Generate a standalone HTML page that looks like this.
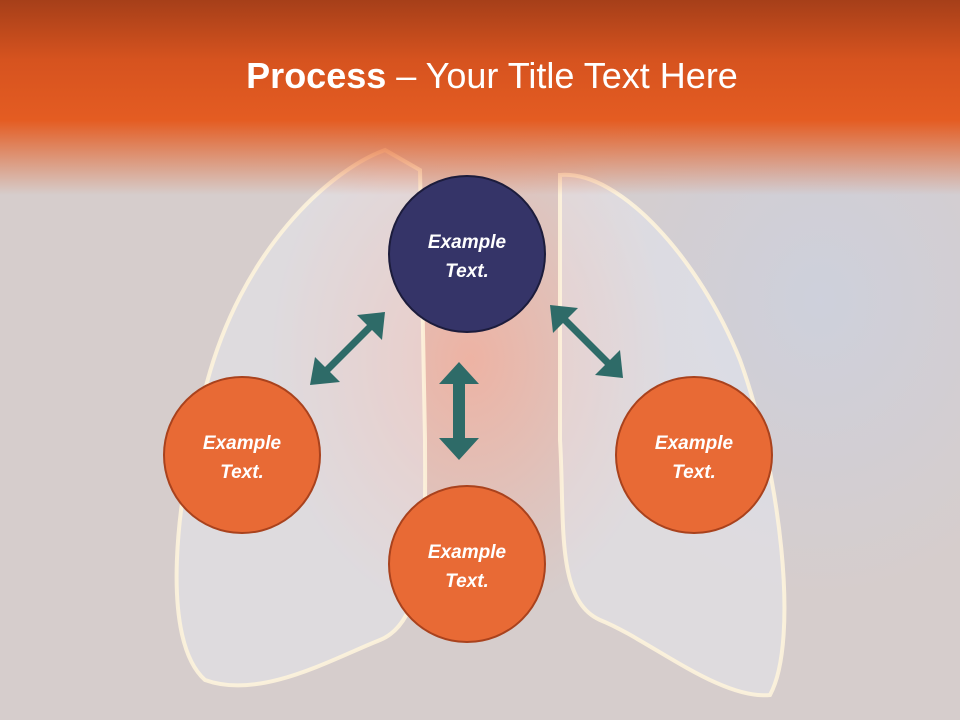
<!DOCTYPE html>
<html><head><style>
body{margin:0;width:960px;height:720px;overflow:hidden;font-family:"Liberation Sans",sans-serif}
.bg{position:absolute;left:0;top:0;width:960px;height:720px;background:
radial-gradient(ellipse 200px 260px at 470px 360px,rgba(245,170,150,.75),rgba(245,170,150,0) 100%),
radial-gradient(ellipse 260px 300px at 820px 300px,rgba(200,210,230,.6),rgba(200,210,230,0)),
#d6cdcc}
.hd{position:absolute;left:0;top:0;width:960px;height:200px;background:linear-gradient(#a63f19 0,#d6531f 60px,#e45c22 120px,rgba(228,92,34,.6) 150px,rgba(220,200,200,0) 195px)}
h1{position:absolute;top:55px;left:12px;width:960px;text-align:center;margin:0;color:#fff;font-size:36px;font-weight:normal}
.c{position:absolute;width:158px;height:158px;border-radius:50%;background:#e86a35;border:2px solid #a9421d;color:#fff;font-style:italic;font-weight:bold;font-size:19px;line-height:29px;display:flex;align-items:center;justify-content:center;text-align:center;box-sizing:border-box;padding-top:6px}
</style></head><body>
<div class="bg"></div>
<svg style="position:absolute;left:0;top:0" width="960" height="720">
<g fill="rgba(235,240,250,.4)" stroke="rgba(255,245,220,.85)" stroke-width="4">
<path d="M385 150 C330 170 240 250 205 390 C175 500 160 640 205 680 C260 700 330 660 380 640 C430 620 425 520 425 440 L420 170 Z"/>
<path d="M560 175 C620 170 700 260 740 360 C780 470 800 640 770 695 C720 700 650 640 600 620 C555 600 565 520 560 440 Z"/>
</g>
<g fill="#2e6b68">
<polygon points="310,385 340,382 330,372 372,330 382,340 385,312 357,315 367,325 325,367 315,357"/>
<polygon points="550,305 553,333 563,323 605,365 595,375 623,378 620,350 610,360 568,318 578,308"/>
<polygon points="459,362 479,384 465,384 465,438 479,438 459,460 439,438 453,438 453,384 439,384"/>
</g>
</svg>
<div class="hd"></div>
<h1><b>Process</b> – Your Title Text Here</h1>
<div class="c" style="left:388px;top:175px;background:#353468;border-color:#1c1c3c">Example<br>Text.</div>
<div class="c" style="left:163px;top:376px">Example<br>Text.</div>
<div class="c" style="left:615px;top:376px">Example<br>Text.</div>
<div class="c" style="left:388px;top:485px">Example<br>Text.</div>
</body></html>
